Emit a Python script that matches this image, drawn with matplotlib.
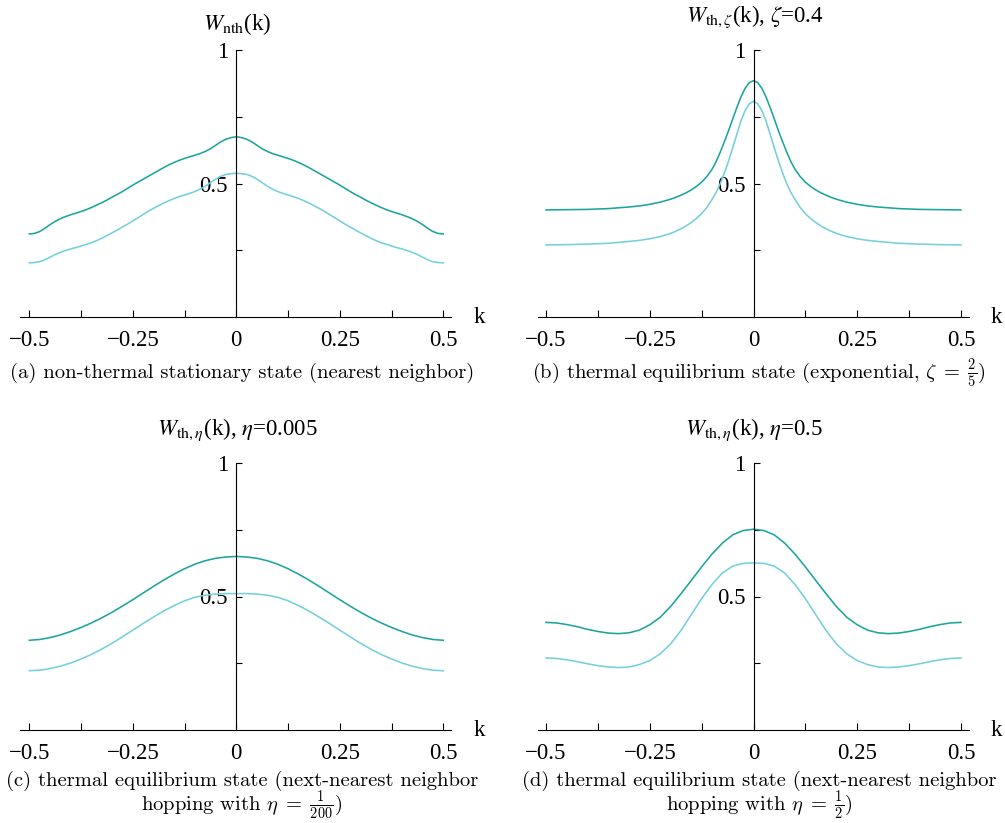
import numpy as np
import matplotlib
matplotlib.use('Agg')
import matplotlib.pyplot as plt
from matplotlib.ticker import FixedLocator

plt.rcParams['font.family'] = ['Liberation Serif', 'DejaVu Serif']

# (a) non-thermal stationary state, k step 0.0125
k_a = np.round(np.arange(-0.5, 0.5001, 0.0125), 4)
a_dark = [0.311, 0.313, 0.320, 0.332, 0.346, 0.358, 0.368, 0.376, 0.383, 0.389,
          0.395, 0.402, 0.410, 0.419, 0.428, 0.438, 0.449, 0.459, 0.470, 0.482,
          0.494, 0.505, 0.516, 0.527, 0.538, 0.549, 0.560, 0.570, 0.579, 0.587,
          0.594, 0.600, 0.606, 0.612, 0.620, 0.630, 0.643, 0.656, 0.666, 0.672,
          0.675,
          0.672, 0.666, 0.656, 0.643, 0.630, 0.620, 0.612, 0.606, 0.600, 0.594,
          0.587, 0.579, 0.570, 0.560, 0.549, 0.538, 0.527, 0.516, 0.505, 0.494,
          0.482, 0.470, 0.459, 0.449, 0.438, 0.428, 0.419, 0.410, 0.402, 0.395,
          0.389, 0.383, 0.376, 0.368, 0.358, 0.346, 0.332, 0.320, 0.313, 0.311]
a_light = [0.203, 0.204, 0.207, 0.214, 0.224, 0.234, 0.242, 0.249, 0.255, 0.260,
           0.266, 0.272, 0.278, 0.286, 0.295, 0.305, 0.315, 0.326, 0.337, 0.348,
           0.360, 0.372, 0.384, 0.396, 0.407, 0.417, 0.427, 0.436, 0.444, 0.451,
           0.457, 0.463, 0.470, 0.479, 0.490, 0.503, 0.516, 0.527, 0.534, 0.537,
           0.538,
           0.537, 0.534, 0.527, 0.516, 0.503, 0.490, 0.479, 0.470, 0.463, 0.457,
           0.451, 0.444, 0.436, 0.427, 0.417, 0.407, 0.396, 0.384, 0.372, 0.360,
           0.348, 0.337, 0.326, 0.315, 0.305, 0.295, 0.286, 0.278, 0.272, 0.266,
           0.260, 0.255, 0.249, 0.242, 0.234, 0.224, 0.214, 0.207, 0.204, 0.203]

# (b) exponential, zeta = 0.4 (finer grid near the peak)
k_b = [-0.5, -0.45, -0.4, -0.35, -0.3, -0.275, -0.25, -0.225, -0.2, -0.1875,
       -0.175, -0.1625, -0.15, -0.1375, -0.125, -0.1125, -0.1, -0.09, -0.08, -0.07,
       -0.06, -0.05, -0.04, -0.03, -0.02, -0.01, 0.0,
       0.01, 0.02, 0.03, 0.04, 0.05, 0.06, 0.07, 0.08, 0.09, 0.1,
       0.1125, 0.125, 0.1375, 0.15, 0.1625, 0.175, 0.1875, 0.2, 0.225, 0.25,
       0.275, 0.3, 0.35, 0.4, 0.45, 0.5]
b_dark = [0.401, 0.402, 0.403, 0.406, 0.412, 0.416, 0.422, 0.430, 0.441, 0.448,
          0.456, 0.465, 0.476, 0.489, 0.505, 0.526, 0.553, 0.582, 0.618, 0.657,
          0.698, 0.742, 0.785, 0.825, 0.857, 0.878, 0.885,
          0.878, 0.857, 0.825, 0.785, 0.742, 0.698, 0.657, 0.618, 0.582, 0.553,
          0.526, 0.505, 0.489, 0.476, 0.465, 0.456, 0.448, 0.441, 0.430, 0.422,
          0.416, 0.412, 0.406, 0.403, 0.402, 0.401]
b_light = [0.270, 0.271, 0.273, 0.276, 0.283, 0.287, 0.293, 0.301, 0.313, 0.321,
           0.330, 0.341, 0.354, 0.369, 0.387, 0.410, 0.440, 0.467, 0.500, 0.540,
           0.585, 0.634, 0.685, 0.735, 0.774, 0.799, 0.808,
           0.799, 0.774, 0.735, 0.685, 0.634, 0.585, 0.540, 0.500, 0.467, 0.440,
           0.410, 0.387, 0.369, 0.354, 0.341, 0.330, 0.321, 0.313, 0.301, 0.293,
           0.287, 0.283, 0.276, 0.273, 0.271, 0.270]

# (c) and (d) next-nearest neighbor, k step 0.025
k_cd = np.round(np.arange(-0.5, 0.5001, 0.025), 3)
c_dark = [0.336, 0.339, 0.346, 0.356, 0.369, 0.384, 0.401, 0.420, 0.441, 0.464,
          0.488, 0.513, 0.538, 0.562, 0.584, 0.604, 0.621, 0.634, 0.643, 0.648,
          0.650,
          0.648, 0.643, 0.634, 0.621, 0.604, 0.584, 0.562, 0.538, 0.513, 0.488,
          0.464, 0.441, 0.420, 0.401, 0.384, 0.369, 0.356, 0.346, 0.339, 0.336]
c_light = [0.222, 0.224, 0.230, 0.239, 0.251, 0.266, 0.283, 0.303, 0.325, 0.349,
           0.374, 0.399, 0.423, 0.446, 0.466, 0.484, 0.497, 0.505, 0.509, 0.511,
           0.511,
           0.511, 0.509, 0.505, 0.497, 0.484, 0.466, 0.446, 0.423, 0.399, 0.374,
           0.349, 0.325, 0.303, 0.283, 0.266, 0.251, 0.239, 0.230, 0.224, 0.222]
d_dark = [0.403, 0.401, 0.395, 0.387, 0.377, 0.369, 0.363, 0.361, 0.364, 0.374,
          0.394, 0.422, 0.462, 0.510, 0.560, 0.611, 0.659, 0.700, 0.731, 0.747,
          0.752,
          0.747, 0.731, 0.700, 0.659, 0.611, 0.560, 0.510, 0.462, 0.422, 0.394,
          0.374, 0.364, 0.361, 0.363, 0.369, 0.377, 0.387, 0.395, 0.401, 0.403]
d_light = [0.270, 0.268, 0.263, 0.256, 0.248, 0.241, 0.236, 0.234, 0.236, 0.245,
           0.260, 0.285, 0.322, 0.372, 0.432, 0.492, 0.545, 0.588, 0.614, 0.624,
           0.626,
           0.624, 0.614, 0.588, 0.545, 0.492, 0.432, 0.372, 0.322, 0.285, 0.260,
           0.245, 0.236, 0.234, 0.236, 0.241, 0.248, 0.256, 0.263, 0.268, 0.270]

x_ticks = [-0.5, -0.25, 0, 0.25, 0.5]
x_tick_labels = ['\u22120.5', '\u22120.25', '0', '0.25', '0.5']
y_ticks = [0.5, 1]
y_tick_labels = ['0.5', '1']

dark_col = '#1ca59d'
light_col = '#74d0dc'

W, H = 1005, 823
fig = plt.figure(figsize=(W / 100, H / 100), dpi=100)


def panel(l, r, t, b, zero_px, unit_px, k, dark, light):
    ax = fig.add_axes([l / W, 1 - b / H, (r - l) / W, (b - t) / H])
    ax.set_xlim((l - zero_px) / unit_px, (r - zero_px) / unit_px)
    ax.set_ylim(0, 1)
    ax.plot(k, dark, color=dark_col, lw=1.15, clip_on=False)
    ax.plot(k, light, color=light_col, lw=1.15, clip_on=False)
    for s in ['top', 'right']:
        ax.spines[s].set_visible(False)
    ax.spines['left'].set_position(('data', 0))
    ax.spines['left'].set_linewidth(0.8)
    ax.spines['bottom'].set_linewidth(0.8)
    ax.xaxis.set_major_locator(FixedLocator(x_ticks))
    ax.xaxis.set_minor_locator(FixedLocator([-0.375, -0.125, 0.125, 0.375]))
    ax.set_xticklabels(x_tick_labels)
    ax.yaxis.set_major_locator(FixedLocator(y_ticks))
    ax.yaxis.set_minor_locator(FixedLocator([0.25, 0.75]))
    ax.set_yticklabels(y_tick_labels)
    ax.tick_params(axis='x', which='both', direction='in', length=5, width=0.8,
                   pad=9.5, labelsize=16.5)
    ax.tick_params(axis='y', which='both', direction='in', length=4, width=0.8,
                   pad=6, labelsize=16.5)
    ax.text(243 / unit_px, 0, 'k', fontsize=16.5, ha='center', va='center')
    ax.patch.set_visible(False)
    return ax


panel(20, 451, 50, 317, 236.3, 414, k_a, a_dark, a_light)
panel(538, 969, 50, 317, 753.5, 415, k_b, b_dark, b_light)
panel(20, 451, 463, 730, 236.3, 414, k_cd, c_dark, c_light)
panel(538, 969, 463, 730, 753.5, 415, k_cd, d_dark, d_light)


def ftext(x, y, s, **kw):
    fig.text(x / W, 1 - y / H, s, ha='center', va='baseline', **kw)


ttl = dict(fontsize=16.5, math_fontfamily='stix')
ftext(237, 30, r'$W_{\mathrm{nth}}$(k)', **ttl)
ftext(755, 22, r'$W_{\mathrm{th},\zeta}$(k), $\zeta$=0.4', **ttl)
ftext(237, 435, r'$W_{\mathrm{th},\eta}$(k), $\eta$=0.005', **ttl)
ftext(754, 435, r'$W_{\mathrm{th},\eta}$(k), $\eta$=0.5', **ttl)

cap = dict(fontsize=14.8, family='cmr10', math_fontfamily='cm')
ftext(242, 378, '(a) non-thermal stationary state (nearest neighbor)', **cap)
ftext(759, 379, r'(b) thermal equilibrium state (exponential, $\zeta\;=\;\frac{2}{5}$)', **cap)
ftext(242, 786, '(c) thermal equilibrium state (next-nearest neighbor', **cap)
ftext(242, 811, r'hopping with $\eta\;=\;\frac{1}{200}$)', **cap)
ftext(759, 786, '(d) thermal equilibrium state (next-nearest neighbor', **cap)
ftext(759, 811, r'hopping with $\eta\;=\;\frac{1}{2}$)', **cap)

fig.savefig('out.png', dpi=100)
